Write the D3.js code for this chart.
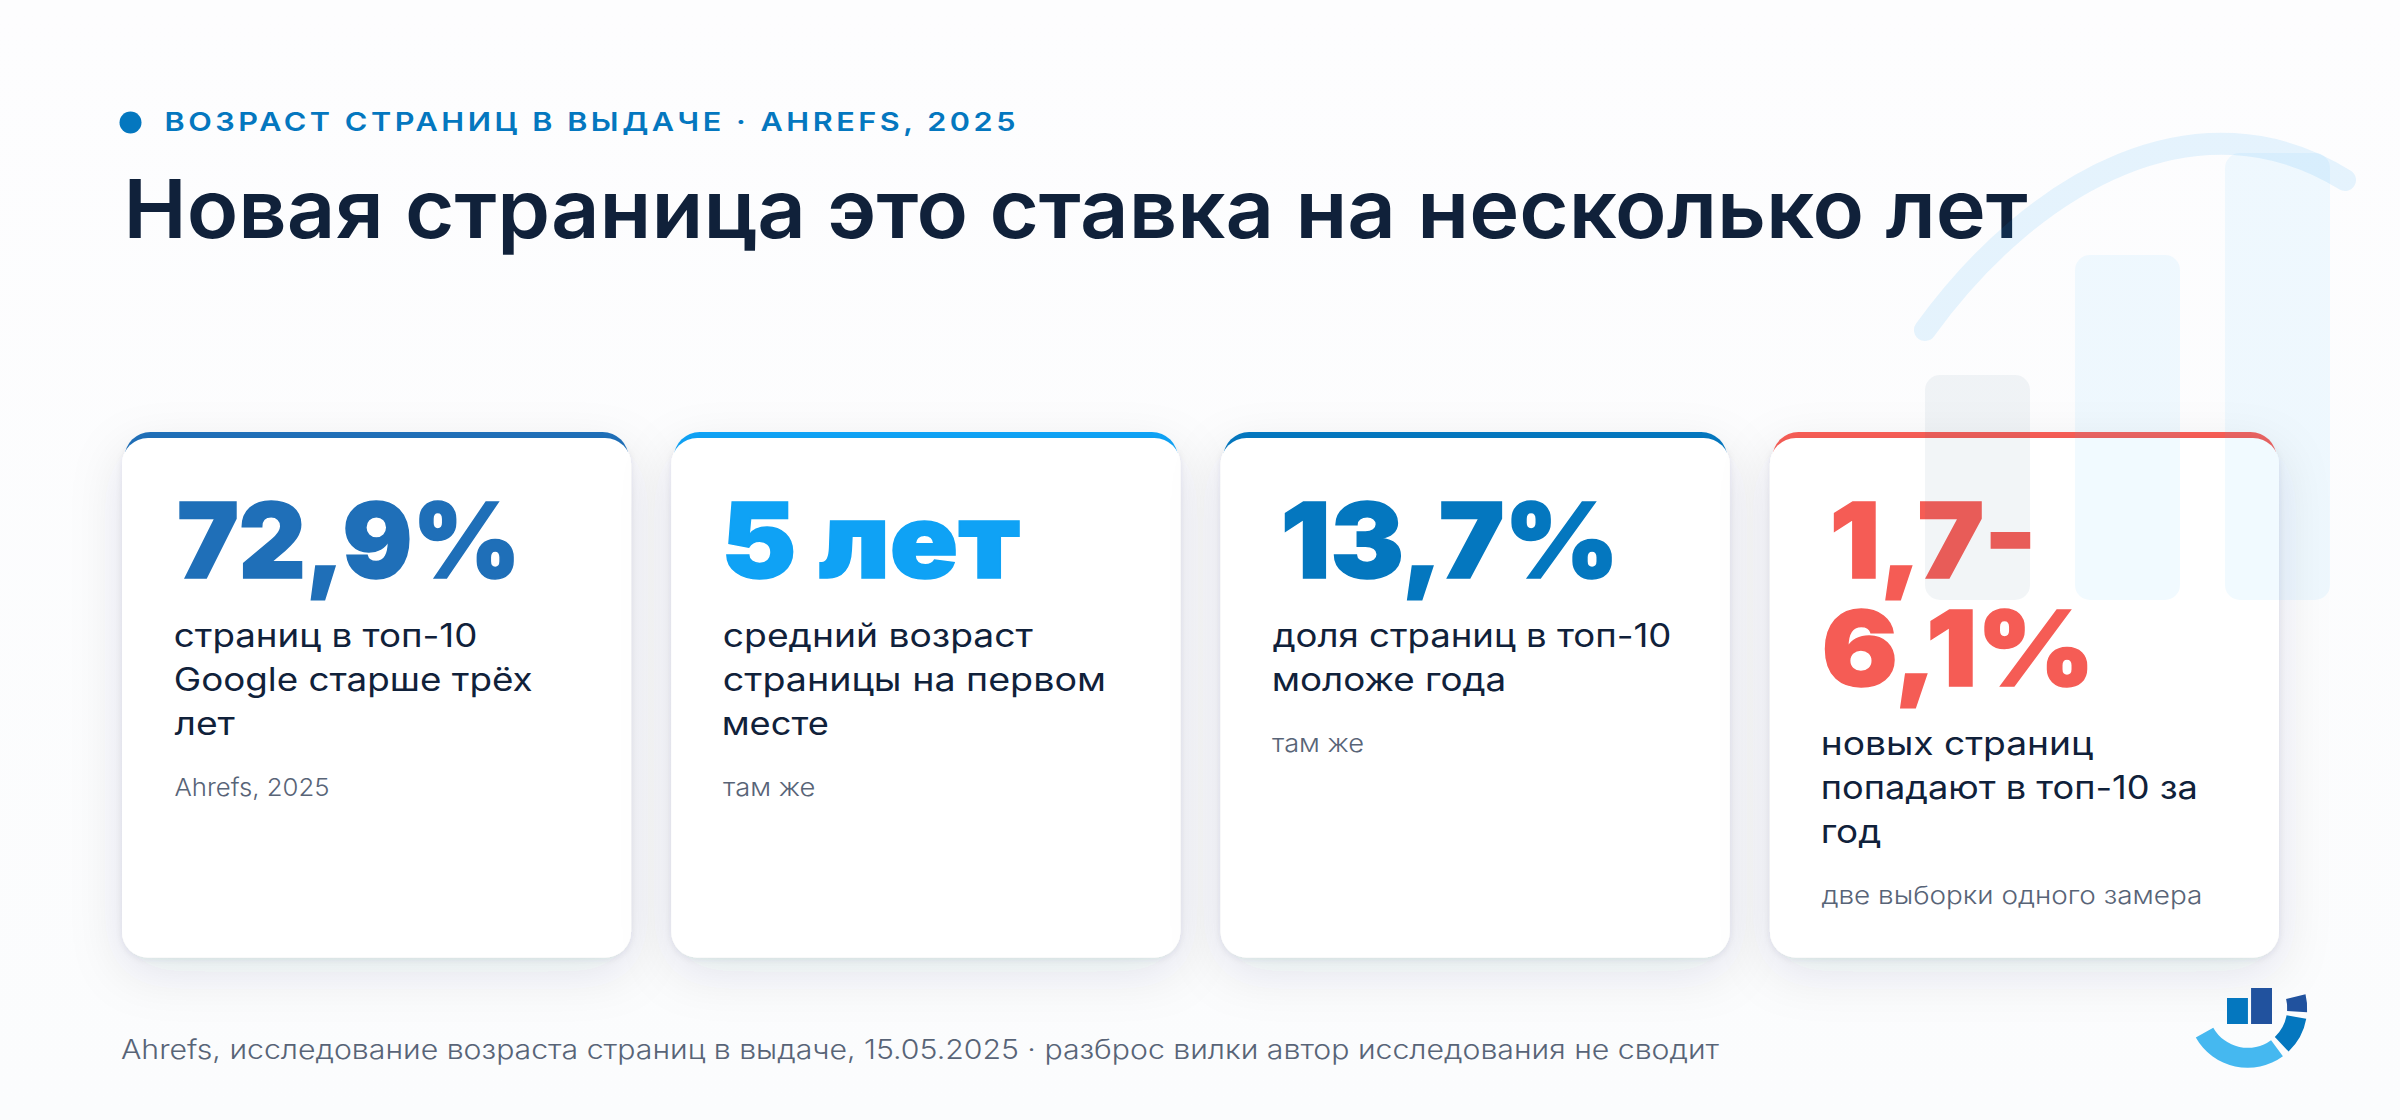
<!DOCTYPE html>
<html><head><meta charset="utf-8">
<script src="https://d3js.org/d3.v7.min.js"></script>
<style>html,body{margin:0;padding:0;background:#fcfdfe}svg{display:block}text{font-family:Inter,"Noto Sans",sans-serif}</style>
</head><body><svg id="c" width="2400" height="1120"></svg>
<script>
const eyebrow = "ВОЗРАСТ СТРАНИЦ В ВЫДАЧЕ · AHREFS, 2025";
const title = "Новая страница это ставка на несколько лет";
const footer = "Ahrefs, исследование возраста страниц в выдаче, 15.05.2025 · разброс вилки автор исследования не сводит";
const cardColors = ["#1f6fb8","#0fa2f5","#0477bf","#f55c55"];
const valueLines = [["72,9%"],["5 лет"],["13,7%"],["1,7-","6,1%"]];
const descLines = [["страниц в топ-10","Google старше трёх","лет"],["средний возраст","страницы на первом","месте"],["доля страниц в топ-10","моложе года"],["новых страниц","попадают в топ-10 за","год"]];
const sources = ["Ahrefs, 2025","там же","там же","две выборки одного замера"];
const decoBars = ["a","b","c"];
const decoValues = [225,345,447];
const decoColors = ["#356383","#35b6fe","#35b6fe"];
const logoBars = [26,36];
const logoArcs = [[143.7,240.7,"#45b8f0"],[100.2,136.6,"#0477bf"],[76.3,93.8,"#21529e"]];

// ink extents of each text in the picture: [left, right]
const valInk = [[[179.3,514]],[[726.7,1019]],[[1285,1612]],[[1834,2030],[1825,2087.5]]];
const descInk = [[[175,476],[175,532],[174.5,235]],[[724,1033],[724,1104],[724,828]],[[1272.7,1670],[1274,1504]],[[1823,2093],[1823,2195.7],[1823,1880]]];
const srcInk = [[174.5,328],[723,814],[1272,1362.7],[1821.4,2200.7]];

const svg = d3.select("#c");
const defs = svg.append("defs");
const bg = defs.append("linearGradient").attr("id","bg").attr("x1",0).attr("y1",0).attr("x2",0).attr("y2",1);
bg.append("stop").attr("offset",0).attr("stop-color","#fdfdfe");
bg.append("stop").attr("offset",1).attr("stop-color","#fbfcfd");
svg.append("rect").attr("width",2400).attr("height",1120).attr("fill","url(#bg)");
const sh = defs.append("filter").attr("id","sh").attr("x","-30%").attr("y","-30%").attr("width","160%").attr("height","160%");
sh.append("feDropShadow").attr("dx",0).attr("dy",14).attr("stdDeviation",26).attr("flood-color","#1a2b4a").attr("flood-opacity",0.11);
const sh2 = defs.append("filter").attr("id","sh2").attr("x","-10%").attr("y","-10%").attr("width","120%").attr("height","120%");
sh2.append("feDropShadow").attr("dx",0).attr("dy",2).attr("stdDeviation",3).attr("flood-color","#1a2b4a").attr("flood-opacity",0.09);

const ctx = document.createElement("canvas").getContext("2d");
function ink(t,size,weight){
  ctx.font = `${weight} ${size}px Inter`;
  const m = ctx.measureText(t);
  return {l:m.actualBoundingBoxLeft, r:m.actualBoundingBoxRight, w:m.width};
}
// horizontally fit a text to its ink extents
function place(parent,t,l,r,y,size,weight,fill){
  const m = ink(t,size,weight), s = (r-l)/(m.l+m.r);
  return parent.append("text").attr("x",l+m.l*s).attr("y",y).attr("font-size",size).attr("font-weight",weight).attr("fill",fill)
    .attr("textLength",m.w*s).attr("lengthAdjust","spacingAndGlyphs").text(t);
}

// cards (shapes)
const cardX = d3.scaleBand().domain(d3.range(4)).range([122,2279]).paddingInner(0.0733);
const cards = svg.selectAll("g.card").data(d3.range(4)).join("g").attr("class","card");
cards.each(function(i){
  const g = d3.select(this), x = cardX(i), w = cardX.bandwidth();
  g.append("rect").attr("x",x).attr("y",438).attr("width",w).attr("height",519.5).attr("rx",26).attr("fill","#fff").attr("filter","url(#sh)");
  g.append("rect").attr("x",x+2.5).attr("y",432).attr("width",w-5).attr("height",60).attr("rx",26).attr("fill",cardColors[i]);
  g.append("rect").attr("x",x).attr("y",438).attr("width",w).attr("height",519.5).attr("rx",26).attr("fill","#fff").attr("filter","url(#sh2)");
});

// decorative bars
const dx = d3.scaleBand().domain(decoBars).range([1925,2330]).paddingInner(0.3);
const dy = d3.scaleLinear().domain([0,447]).range([600,153]);
svg.selectAll("rect.deco").data(decoValues).join("rect").attr("class","deco")
  .attr("x",(d,i)=>dx(decoBars[i])).attr("y",d=>dy(d)).attr("width",dx.bandwidth()).attr("height",d=>dy(0)-dy(d))
  .attr("rx",15).attr("fill",(d,i)=>decoColors[i]).attr("opacity",(d,i)=>i?0.07:0.065);

// header
svg.append("circle").attr("cx",130.5).attr("cy",122.5).attr("r",11).attr("fill","#0477bf");
{
  const ls = 3, m = ink(eyebrow,26,600), n = eyebrow.length;
  const s = (1015-165.7)/(m.l+m.r+ls*(n-1));
  svg.append("text").attr("x",165.7+m.l*s).attr("y",131).attr("font-size",26).attr("font-weight",600).attr("fill","#0477bf")
    .attr("letter-spacing",ls).attr("textLength",(m.w+ls*n)*s).attr("lengthAdjust","spacingAndGlyphs").text(eyebrow);
}
place(svg,title,128.7,2027.7,238,81,600,"#10213a");

// card texts
cards.each(function(i){
  const g = d3.select(this);
  let y = 578;
  valueLines[i].forEach((t,k)=>{
    place(g,t,valInk[i][k][0],valInk[i][k][1],y,104,900,cardColors[i]).attr("stroke",cardColors[i]).attr("stroke-width",1.5);
    y += 108;
  });
  y = (valueLines[i].length-1)*108 + 647;
  descLines[i].forEach((t,k)=>{
    place(g,t,descInk[i][k][0],descInk[i][k][1],y,32,430,"#10213a");
    y += 44;
  });
  y += 17;
  place(g,sources[i],srcInk[i][0],srcInk[i][1],y,24.5,350,"#586477");
});

// footer
place(svg,footer,121,1719.3,1059,26.5,350,"#586477");

// decorative arc
const p = d3.path(); p.moveTo(1925,330); p.bezierCurveTo(2035,178,2200,90,2345,180);
svg.append("path").attr("d",p.toString())
  .attr("fill","none").attr("stroke","#13a0f2").attr("stroke-width",22).attr("stroke-linecap","round").attr("opacity",0.1);

// logo
const logoX = d3.scaleBand().domain([0,1]).range([2227,2272]).paddingInner(0.13);
const logoY = d3.scaleLinear().domain([0,36]).range([1024,988]);
svg.selectAll("rect.lb").data(logoBars).join("rect").attr("class","lb")
  .attr("x",(d,i)=>logoX(i)).attr("y",d=>logoY(d)).attr("width",logoX.bandwidth()).attr("height",d=>logoY(0)-logoY(d))
  .attr("fill",(d,i)=>["#0477bf","#21529e"][i]);
const arc = d3.arc().innerRadius(39.5).outerRadius(59.5);
const rad = d3.scaleLinear().domain([0,180]).range([0,Math.PI]);
svg.selectAll("path.la").data(logoArcs).join("path").attr("class","la")
  .attr("transform","translate(2247.7,1008.3)")
  .attr("d",d=>arc({startAngle:rad(d[0]),endAngle:rad(d[1])})).attr("fill",d=>d[2]);
</script></body></html>
